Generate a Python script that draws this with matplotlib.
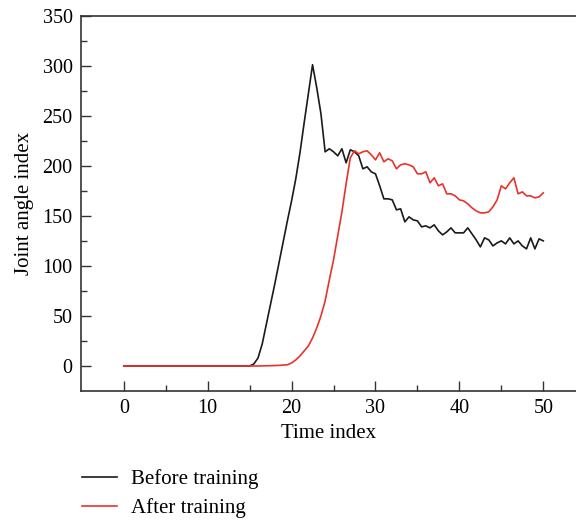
import numpy as np
import matplotlib
matplotlib.use("Agg")
import matplotlib.pyplot as plt

# time axis: 0..50 in steps of 0.5
t = np.arange(0, 50.5, 0.5)

before_training = [0] * 31 + [
    2, 8, 22, 42, 62, 82, 103, 124, 145, 165,            # 15.5 - 20
    187, 213, 243, 272, 301, 278, 252, 214, 217, 214,    # 20.5 - 25
    210, 217, 203, 216, 214, 210, 197, 199, 194, 192,    # 25.5 - 30
    180, 167, 167, 166, 156, 157, 144, 149, 146, 145,    # 30.5 - 35
    139, 140, 138, 141, 135, 131, 134, 138, 133, 133,    # 35.5 - 40
    133, 138, 132, 126, 119, 128, 126, 120, 123, 125,    # 40.5 - 45
    122, 128, 122, 125, 120, 117, 128, 117, 127, 125,    # 45.5 - 50
]

after_training = [0] * 30 + [
    0, 0, 0, 0.1, 0.2, 0.3, 0.4, 0.6, 0.9,              # 15 - 19
    1.2, 3, 6, 10, 15, 20, 28, 38, 50, 65,               # 19.5 - 24
    86, 106, 130, 154, 182, 208, 215, 212, 214, 215,     # 24.5 - 29
    211, 206, 213, 204, 207, 205, 197, 201, 202, 201,    # 29.5 - 34
    199, 192, 192, 194, 183, 188, 180, 182, 172, 172,    # 34.5 - 39
    170, 166, 165, 162, 158, 155, 153, 153, 154, 159,    # 39.5 - 44
    166, 180, 177, 183, 188, 172, 174, 170, 170, 168,    # 44.5 - 49
    169, 173,                                            # 49.5 - 50
]

plt.rcParams["font.family"] = ["Liberation Serif", "DejaVu Serif"]

fig = plt.figure(figsize=(5.76, 5.23), dpi=100)
ax = fig.add_axes([0.1406, 0.2524, 0.8594, 0.7176])

ax.plot(t, before_training, color="#1a1a1a", lw=1.2, label="Before training")
ax.plot(t, after_training, color="#e8332b", lw=1.2, label="After training")

ax.set_xlim(-5.1, 53.9)
ax.set_ylim(-25, 350)
ax.set_xticks(range(0, 51, 10))
ax.set_xticks(range(5, 51, 10), minor=True)
ax.set_yticks(range(0, 351, 50))
ax.set_yticks(range(25, 351, 50), minor=True)
ax.tick_params(which="both", direction="in", labelsize=14.5, color="#333333")
ax.tick_params(which="major", length=7, width=1, pad=6)
ax.tick_params(which="minor", length=4, width=1)
ax.spines["right"].set_visible(False)
for s in ["left", "bottom", "top"]:
    ax.spines[s].set_linewidth(1.2)
    ax.spines[s].set_color("#333333")

ax.set_xlabel("Time index", fontsize=15, labelpad=4)
ax.set_ylabel("Joint angle index", fontsize=15, labelpad=6)

ax.legend(loc="upper left", bbox_to_anchor=(82 / 576, 1 - 469 / 523),
          bbox_transform=fig.transFigure, frameon=False, fontsize=15,
          handlelength=1.7, handletextpad=0.65, labelspacing=0.45,
          borderpad=0, borderaxespad=0)

fig.savefig("out.png", dpi=100)
